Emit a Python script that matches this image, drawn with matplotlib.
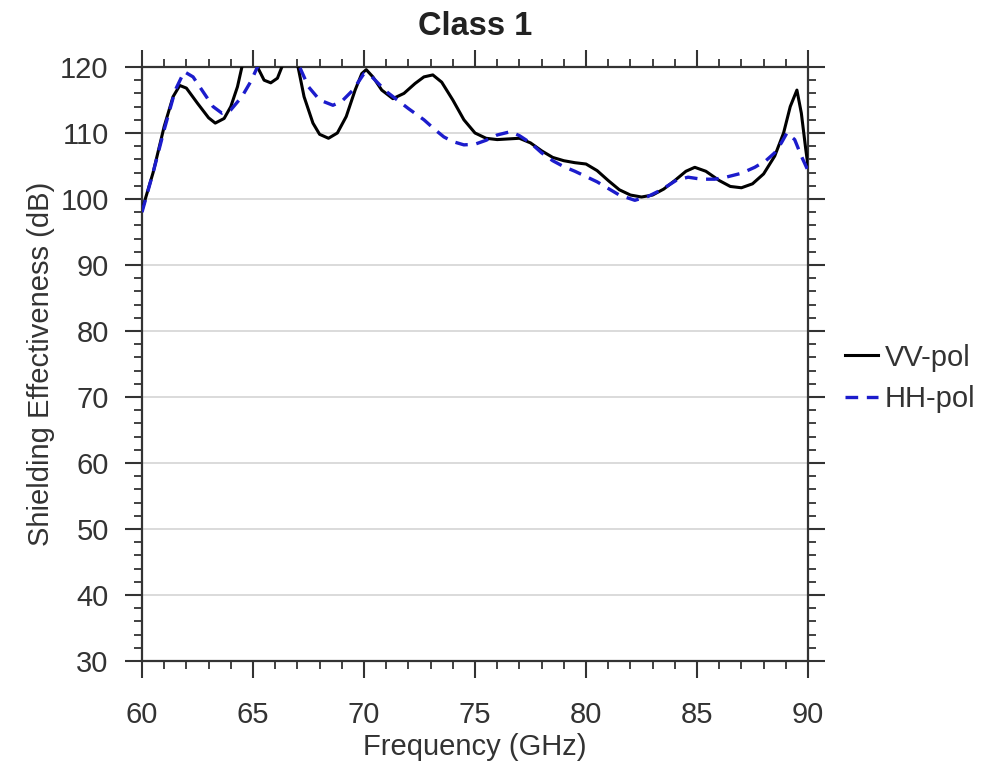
import matplotlib
matplotlib.use("Agg")
import matplotlib.pyplot as plt
from matplotlib.ticker import MultipleLocator

plt.rcParams['font.family'] = ['Liberation Sans', 'DejaVu Sans']

vv_freq = [60.0, 60.5, 61.0, 61.4, 61.7, 62.0, 62.5, 63.0, 63.3, 63.7, 64.0, 64.3, 64.5,
           64.7, 65.0, 65.2, 65.5, 65.8, 66.1, 66.3, 66.6, 67.0, 67.3, 67.7, 68.0, 68.4,
           68.8, 69.2, 69.6, 69.9, 70.1, 70.4, 70.8, 71.3, 71.8, 72.3, 72.7, 73.1, 73.5,
           74.0, 74.5, 75.0, 75.5, 76.0, 76.5, 77.0, 77.5, 78.0, 78.5, 79.0, 79.5, 80.0,
           80.5, 81.0, 81.5, 82.0, 82.5, 83.0, 83.5, 84.0, 84.5, 84.9, 85.4, 86.0, 86.5,
           87.0, 87.5, 88.0, 88.5, 88.9, 89.2, 89.5, 89.7, 89.9, 90.0]
vv_se = [98.3, 104.0, 111.0, 115.5, 117.2, 116.8, 114.5, 112.3, 111.5, 112.2, 114.0, 117.0, 120.0,
         123.0, 123.0, 120.0, 118.0, 117.6, 118.3, 120.0, 123.0, 120.5, 115.5, 111.5, 109.8, 109.2,
         110.0, 112.5, 116.5, 119.0, 119.6, 118.5, 116.5, 115.2, 116.0, 117.5, 118.5, 118.8, 117.7,
         115.0, 112.0, 110.0, 109.2, 109.0, 109.1, 109.2, 108.5, 107.3, 106.3, 105.8, 105.5, 105.3,
         104.3, 102.8, 101.4, 100.6, 100.3, 100.6, 101.5, 102.8, 104.2, 104.8, 104.2, 102.8, 101.9,
         101.7, 102.3, 103.8, 106.5, 110.0, 114.0, 116.5, 113.0, 107.5, 105.0]

hh_freq = [60.0, 60.5, 61.0, 61.5, 61.9, 62.3, 62.8, 63.2, 63.6, 64.0, 64.5, 64.9, 65.2,
           65.6, 66.5, 67.1, 67.5, 68.0, 68.6, 69.0, 69.5, 70.0, 70.3, 71.0, 71.5, 72.0,
           72.7, 73.2, 73.6, 74.0, 74.5, 75.0, 75.5, 76.0, 76.6, 77.0, 77.5, 78.0, 78.5,
           79.0, 79.5, 80.0, 80.5, 81.0, 81.5, 82.2, 82.8, 83.4, 84.1, 84.6, 85.2, 85.8,
           86.3, 87.0, 87.6, 88.1, 88.5, 88.8, 89.05, 89.4, 89.7, 90.0]
hh_se = [98.0, 104.0, 110.5, 116.5, 119.3, 118.5, 116.0, 114.0, 113.0, 113.5, 115.5, 117.8, 120.0,
         122.0, 122.0, 120.0, 117.0, 115.0, 114.2, 114.8, 116.5, 119.0, 118.7, 116.3, 115.0, 113.7,
         112.0, 110.5, 109.4, 108.7, 108.2, 108.3, 108.9, 109.7, 110.2, 109.6, 108.5, 107.0, 105.8,
         104.9, 104.2, 103.4, 102.6, 101.6, 100.6, 99.8, 100.4, 101.4, 102.9, 103.3, 103.0, 103.0,
         103.3, 103.9, 104.8, 105.8, 107.0, 108.5, 110.0, 109.0, 106.5, 104.3]

x_ticks = [60, 65, 70, 75, 80, 85, 90]
y_ticks = [30, 40, 50, 60, 70, 80, 90, 100, 110, 120]

txt = '#333333'
fig = plt.figure(figsize=(9.93, 7.63), dpi=100)
ax = fig.add_axes([0.143, 0.1337, 0.6707, 0.7785])

for yt in y_ticks:
    ax.axhline(yt, color='#d4d4d4', lw=1.2, zorder=0)

ax.plot(vv_freq, vv_se, color='black', lw=2.2, label='VV-pol', zorder=3,
        solid_joinstyle='round')
ax.plot(hh_freq, hh_se, color='#1c1ccc', lw=2.4, dashes=(3.8, 2.6), label='HH-pol', zorder=4)

ax.set_xlim(60, 90)
ax.set_ylim(30, 120)
ax.set_xticks(x_ticks)
ax.set_yticks(y_ticks)
ax.xaxis.set_minor_locator(MultipleLocator(1))
ax.yaxis.set_minor_locator(MultipleLocator(2))
ax.tick_params(which='major', direction='out', length=12, width=1.5, color='#333333',
               labelsize=21, labelcolor=txt, top=True, right=True)
ax.tick_params(which='minor', direction='out', length=6, width=1.3, color='#333333',
               top=True, right=True)
ax.tick_params(axis='x', which='major', pad=17)
ax.tick_params(axis='y', which='major', pad=12)
for s in ax.spines.values():
    s.set_linewidth(1.6)
    s.set_color('#333333')

ax.set_xlabel('Frequency (GHz)', fontsize=21, color=txt, labelpad=3)
ax.set_ylabel('Shielding Effectiveness (dB)', fontsize=21, color=txt, labelpad=4)
ax.set_title('Class 1', fontsize=23.5, fontweight='bold', color='#222222', pad=23)

leg = ax.legend(loc='center left', bbox_to_anchor=(1.056, 0.476), frameon=False,
                fontsize=21, handlelength=1.13, handletextpad=0.22, labelspacing=0.45,
                borderpad=0, borderaxespad=0, labelcolor=txt)

fig.savefig('out.png', dpi=100)
